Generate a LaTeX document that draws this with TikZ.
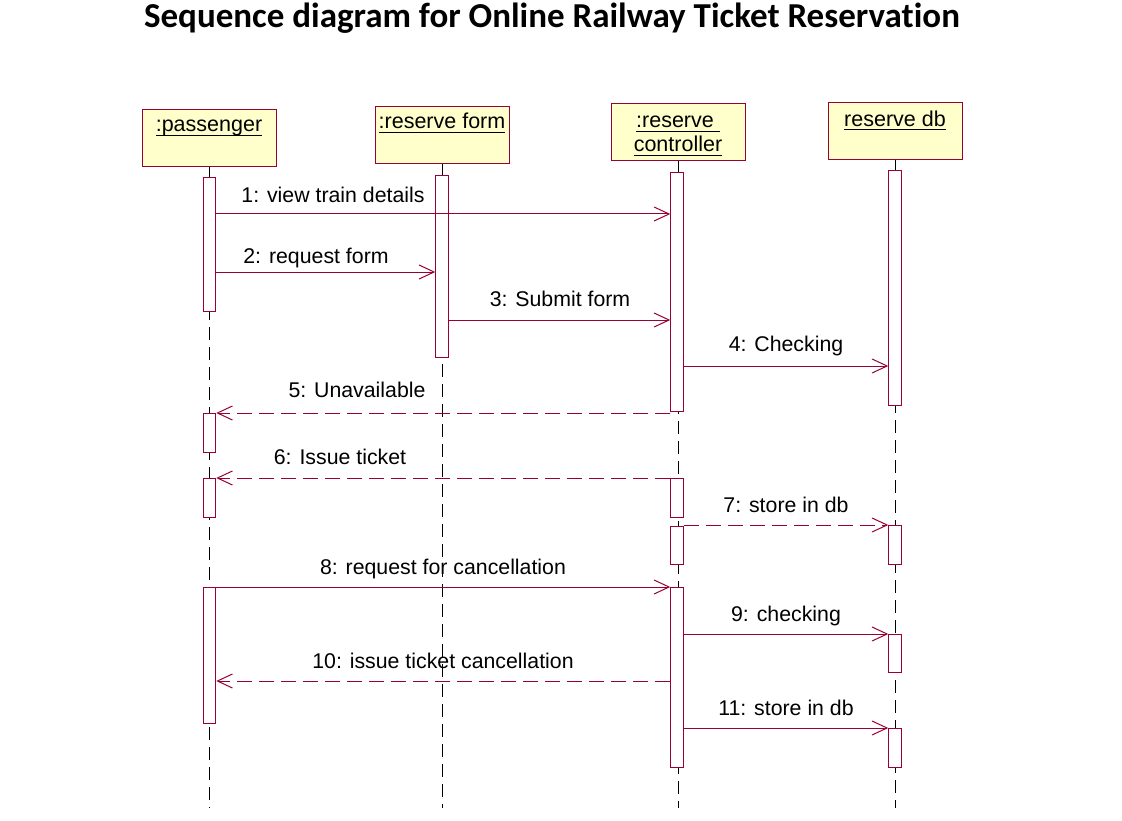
\documentclass[tikz,border=0pt]{standalone}
\usepackage{fontspec}
\setmainfont{Liberation Sans}
\newfontfamily\titlefont[Ligatures=NoCommon]{Carlito}
\usetikzlibrary{arrows.meta}
\definecolor{ln}{RGB}{153,0,51}
\definecolor{hdfill}{RGB}{255,255,204}
\newcommand\ulbox[1]{\setbox0\hbox{#1}\rlap{\raisebox{-4pt}{\rule{\wd0}{1.4pt}}}\box0}
\tikzset{
  head/.style={draw=ln,fill=hdfill,line width=1pt,minimum width=134pt,minimum height=57pt,inner sep=0pt,anchor=north},
  htext/.style={anchor=base,inner sep=0pt,font=\fontsize{21.5}{25}\selectfont},
  bar/.style={draw=ln,fill=white,line width=1pt,minimum width=12.5pt,inner sep=0pt,anchor=north},
  life/.style={black,line width=1pt,dash pattern=on 13pt off 7pt},
  msg/.style={ln,line width=1pt,-{Straight Barb[length=15pt,width=14pt,line width=1pt]}},
  ret/.style={msg,dash pattern=on 15pt off 7pt},
  lbl/.style={anchor=base,font=\fontsize{21.3}{24}\selectfont,inner sep=0pt}
}
\begin{document}
\begin{tikzpicture}[x=1pt,y=-1pt]
\useasboundingbox (0,0) rectangle (1122,821);
\node[font=\titlefont\bfseries\fontsize{35}{40}\selectfont,inner sep=0pt] (title) at (552,18) {Sequence diagram for Online Railway Ticket Reservation};
% headers
\node[head] (p) at (209,109) {};
\node[htext] (pt) at (209,132) {\ulbox{:passenger}};
\node[head] (f) at (442,106) {};
\node[htext] (ft) at (442,129) {\ulbox{:reserve form}};
\node[head] (c) at (678,103) {};
\node[htext] (ct) at (678,128) {\ulbox{:reserve\ }};
\node[htext] (ct2) at (678,152) {\ulbox{controller}};
\node[head] (d) at (895,102) {};
\node[htext] (dt) at (895,126.5) {\ulbox{reserve db}};
% lifelines
\coordinate (pe) at (209,808);
\coordinate (fe) at (442,808);
\coordinate (ce) at (678,808);
\coordinate (de) at (895,808);
\draw[life] (p.south) -- (pe);
\draw[life] (f.south) -- (fe);
\draw[life] (c.south) -- (ce);
\draw[life] (d.south) -- (de);
% activation bars
\node[bar,minimum height=134pt] (pa1) at (209.5,177) {};
\node[bar,minimum height=39pt] (pa2) at (209.5,413) {};
\node[bar,minimum height=39pt] (pa3) at (209.5,478) {};
\node[bar,minimum height=136pt] (pa4) at (209.5,587) {};
\node[bar,minimum height=182pt] (fa1) at (442,175) {};
\node[bar,minimum height=239pt] (ca1) at (677,172) {};
\node[bar,minimum height=39pt] (ca2) at (677,478) {};
\node[bar,minimum height=38pt] (ca3) at (677,526) {};
\node[bar,minimum height=180pt] (ca4) at (677,587) {};
\node[bar,minimum height=235pt] (da1) at (895,170) {};
\node[bar,minimum height=39pt] (da2) at (895,525) {};
\node[bar,minimum height=38pt] (da3) at (895,634) {};
\node[bar,minimum height=39pt] (da4) at (895,728) {};
% message rows
\coordinate (m1) at (0,214);
\coordinate (m2) at (0,272);
\coordinate (m3) at (0,320);
\coordinate (m4) at (0,366);
\coordinate (m5) at (0,413);
\coordinate (m6) at (0,478);
\coordinate (m7) at (0,525);
\coordinate (m8) at (0,587);
\coordinate (m9) at (0,634);
\coordinate (m10) at (0,681);
\coordinate (m11) at (0,728);
% messages
\draw[msg] (pa1.east |- m1) -- (ca1.west |- m1);
\node[lbl] (l1) at (333,203) {1: view train details};
\draw[msg] (pa1.east |- m2) -- (fa1.west |- m2);
\node[lbl] (l2) at (316,263) {2: request form};
\draw[msg] (fa1.east |- m3) -- (ca1.west |- m3);
\node[lbl] (l3) at (560,306) {3: Submit form};
\draw[msg] (ca1.east |- m4) -- (da1.west |- m4);
\node[lbl] (l4) at (786,351) {4: Checking};
\draw[ret] (ca1.west |- m5) -- (pa2.east |- m5);
\node[lbl] (l5) at (357,397) {5: Unavailable};
\draw[ret] (ca2.west |- m6) -- (pa3.east |- m6);
\node[lbl] (l6) at (340,464) {6: Issue ticket};
\draw[ret] (ca3.east |- m7) -- (da2.west |- m7);
\node[lbl] (l7) at (786,512.5) {7: store in db};
\draw[msg] (pa4.east |- m8) -- (ca4.west |- m8);
\node[lbl] (l8) at (443,574) {8: request for cancellation};
\draw[msg] (ca4.east |- m9) -- (da3.west |- m9);
\node[lbl] (l9) at (786,621.5) {9: checking};
\draw[ret] (ca4.west |- m10) -- (pa4.east |- m10);
\node[lbl] (l10) at (443,668) {10: issue ticket cancellation};
\draw[msg] (ca4.east |- m11) -- (da4.west |- m11);
\node[lbl] (l11) at (786,715) {11: store in db};
\end{tikzpicture}
\end{document}
